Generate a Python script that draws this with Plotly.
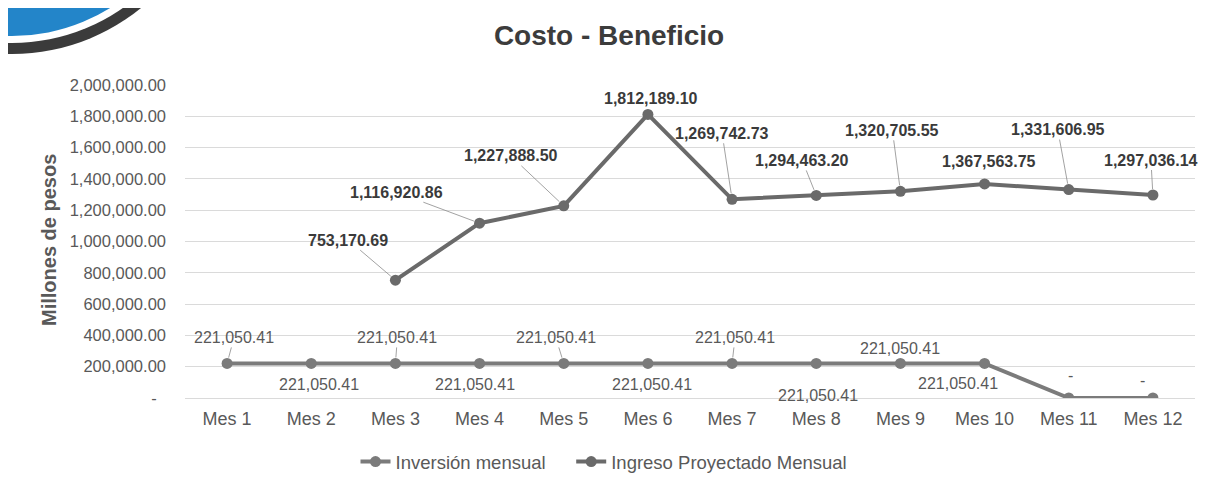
import plotly.graph_objects as go

# ---------------- data ----------------
meses = ["Mes 1", "Mes 2", "Mes 3", "Mes 4", "Mes 5", "Mes 6",
         "Mes 7", "Mes 8", "Mes 9", "Mes 10", "Mes 11", "Mes 12"]
inversion_mensual = [221050.41, 221050.41, 221050.41, 221050.41, 221050.41, 221050.41,
                     221050.41, 221050.41, 221050.41, 221050.41, 0, 0]
ingreso_proyectado = [None, None, 753170.69, 1116920.86, 1227888.50, 1812189.10,
                      1269742.73, 1294463.20, 1320705.55, 1367563.75, 1331606.95, 1297036.14]
y_tick_values = [0, 200000, 400000, 600000, 800000, 1000000,
                 1200000, 1400000, 1600000, 1800000, 2000000]
series_names = ["Inversión mensual", "Ingreso Proyectado Mensual"]

# ---------------- style ----------------
PAGE_W, PAGE_H = 1213, 485
OFF = 8                      # default page body margin
W, H = PAGE_W - OFF, PAGE_H - OFF
# plot area in page pixels: x 185..1195, y 85..398
ML, MT = 185 - OFF, 85 - OFF
MR, MB = PAGE_W - 1195, PAGE_H - 398
PW, PH = W - ML - MR, H - MT - MB

GREY_TXT = "#595959"
INV_COLOR = "#7b7b7b"
ING_COLOR = "#6a6a6a"
FONT = "Liberation Sans, Arial, sans-serif"
LEGEND_PAD = "\u00a0" * 4

# label offsets (pixels: dx, dy, leader line)
inv_label_style = [(7, -26, True), (8, 21, False), (2, -26, True), (-5, 21, False),
                   (-8, -26, True), (4, 21, False), (3, -26, True), (2, 32, False),
                   (0, -15, False), (-27, 20, False), (2, -23, False), (-10, -18, False)]
ing_label_style = [None, None, (-47, -40, True), (-83, -31, True), (-53, -50, True),
                   (3, -16, False), (-10, -66, True), (-14, -35, True), (-8, -61, True),
                   (4, -22, False), (-11, -60, True), (-2, -35, True)]


def fmt(v):
    return "-" if v == 0 else f"{v:,.2f}"


def fmt_tick(v):
    return "-\u00a0\u00a0" if v == 0 else f"{v:,.2f}"


def px_to_paper_x(px):          # page pixel -> paper
    return (px - OFF - ML) / PW


def px_to_paper_y(py):
    return (H - MB - (py - OFF)) / PH


fig = go.Figure()
fig.add_trace(go.Scatter(
    x=meses, y=inversion_mensual, name=series_names[0] + LEGEND_PAD,
    mode="lines+markers",
    line=dict(color=INV_COLOR, width=4),
    marker=dict(color=INV_COLOR, size=11),
))
fig.add_trace(go.Scatter(
    x=meses, y=ingreso_proyectado, name=series_names[1],
    mode="lines+markers",
    line=dict(color=ING_COLOR, width=4),
    marker=dict(color=ING_COLOR, size=11),
))

annotations = []


def add_label(xv, yv, style, font):
    dx, dy, leader = style
    if leader:
        annotations.append(dict(
            x=xv, y=yv, xref="x", yref="y", text=fmt(yv),
            showarrow=True, arrowhead=0, arrowwidth=0.8, arrowcolor="#8a8a8a",
            ax=dx, ay=dy, standoff=6, font=font))
    else:
        annotations.append(dict(
            x=xv, y=yv, xref="x", yref="y", text=fmt(yv),
            showarrow=False, xshift=dx, yshift=-dy, font=font))


for m, v, s in zip(meses, inversion_mensual, inv_label_style):
    add_label(m, v, s, dict(family=FONT, size=16, color=GREY_TXT))
for m, v, s in zip(meses, ingreso_proyectado, ing_label_style):
    if v is None:
        continue
    add_label(m, v, s, dict(family=FONT, size=16, color="#3a3a3a", weight="bold"))

# y-axis title
annotations.append(dict(
    x=px_to_paper_x(49), y=px_to_paper_y(240), xref="paper", yref="paper",
    xanchor="center", yanchor="middle",
    text="<b>Millones de pesos</b>", textangle=-90, showarrow=False,
    font=dict(family=FONT, size=20, color=GREY_TXT)))

# decorative logo corner (top-left), page pixel geometry
shapes = []
cx, cy = 12, -150
for r, col in [(204, "#3b3b3b"), (193, "#ffffff"), (186, "#2385c9")]:
    shapes.append(dict(
        type="circle", xref="paper", yref="paper",
        x0=px_to_paper_x(cx - r), x1=px_to_paper_x(cx + r),
        y0=px_to_paper_y(cy + r), y1=px_to_paper_y(cy - r),
        fillcolor=col, line=dict(width=0), layer="above"))

fig.update_layout(
    width=W, height=H,
    margin=dict(l=ML, r=MR, t=MT, b=MB, autoexpand=False),
    paper_bgcolor="white", plot_bgcolor="white",
    font=dict(family=FONT, color=GREY_TXT),
    title=dict(text="<b>Costo - Beneficio</b>", x=(609 - OFF) / W, xanchor="center",
               y=1 - (35 - OFF) / H, yanchor="middle",
               font=dict(family=FONT, size=28, color="#3c3c3c")),
    showlegend=True,
    legend=dict(orientation="h", x=px_to_paper_x(604), xanchor="center",
                y=px_to_paper_y(462), yanchor="middle",
                font=dict(family=FONT, size=18.5, color=GREY_TXT),
                bgcolor="rgba(0,0,0,0)"),
    xaxis=dict(type="category", range=[-0.5, 11.5], showgrid=False,
               showline=False, ticks="", zeroline=False, automargin=False,
               tickfont=dict(family=FONT, size=18, color=GREY_TXT),
               ticklabelstandoff=8),
    yaxis=dict(range=[0, 2000000], tickvals=y_tick_values,
               ticktext=[fmt_tick(v) for v in y_tick_values],
               showgrid=True, gridcolor="#dadada", gridwidth=1,
               zeroline=True, zerolinecolor="#dadada", zerolinewidth=1,
               showline=False, ticks="", automargin=False,
               tickfont=dict(family=FONT, size=16.5, color=GREY_TXT),
               ticklabelstandoff=18),
    annotations=annotations,
    shapes=shapes,
)

fig.write_html("out.html")
